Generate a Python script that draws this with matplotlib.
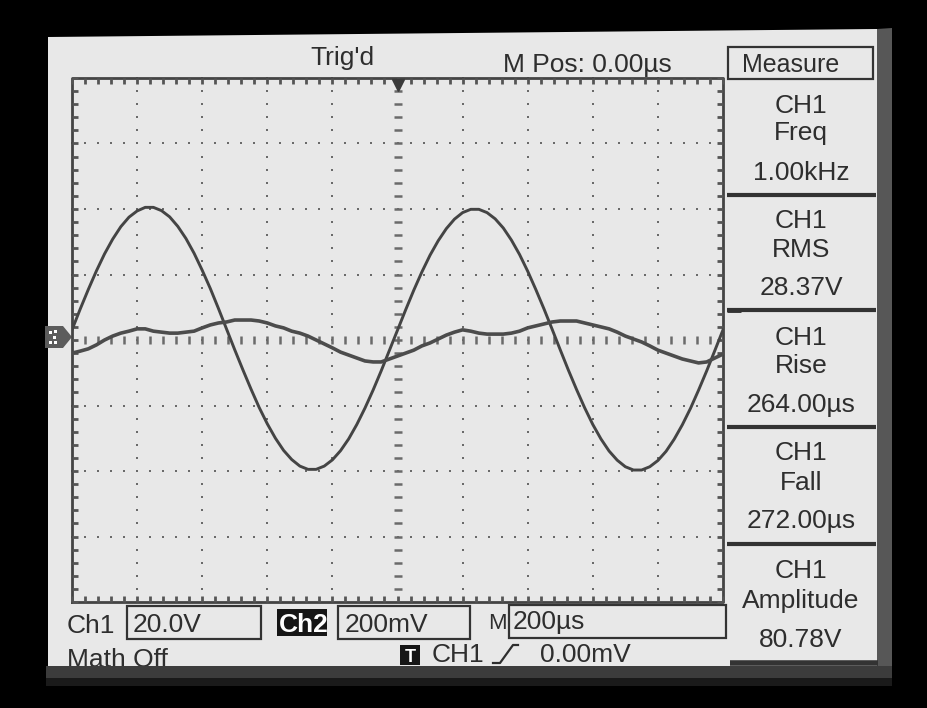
import numpy as np
import matplotlib
matplotlib.use("Agg")
import matplotlib.pyplot as plt
from matplotlib.patches import Rectangle, Polygon

time_us = np.arange(-1000, 1001, 25)          # sample instants, 25 us apart

ch1_volts = [3.1, 9.4, 15.4, 21.1, 26.3, 30.8, 34.6, 37.5, 39.4, 40.5,
             40.5, 39.5, 37.6, 34.7, 31.0, 26.5, 21.3, 15.7, 9.6, 3.3,
             -3.0, -9.1, -15.0, -20.6, -25.6, -30.0, -33.7, -36.5, -38.5, -39.5,
             -39.5, -38.5, -36.6, -33.8, -30.2, -25.8, -20.8, -15.3, -9.4, -3.2,
             3.0, 9.2, 15.2, 20.8, 25.9, 30.3, 34.0, 36.9, 38.9, 39.9,
             39.9, 38.9, 37.0, 34.2, 30.5, 26.1, 21.0, 15.4, 9.5, 3.3,
             -3.0, -9.2, -15.1, -20.7, -25.8, -30.2, -33.9, -36.7, -38.7, -39.7,
             -39.7, -38.7, -36.8, -34.0, -30.3, -25.9, -20.9, -15.3, -9.4, -3.2,
             3.1]

ch2_mv = [-40, -34, -27, -15, 0, 12, 21, 27, 34, 34,
          27, 24, 21, 21, 24, 27, 37, 46, 52, 55,
          61, 61, 61, 58, 52, 43, 37, 27, 21, 12,
          0, -12, -24, -37, -46, -55, -64, -67, -67, -58,
          -49, -40, -31, -18, -9, 3, 15, 24, 31, 27,
          21, 18, 18, 18, 21, 27, 37, 43, 49, 55,
          58, 58, 58, 52, 46, 40, 34, 24, 12, 3,
          -6, -18, -31, -40, -49, -58, -64, -70, -67, -55,
          -43]

US_PER_DIV = 200
V_PER_DIV = 20
MV_PER_DIV = 200
H_DIVS = 10
V_DIVS = 8

status_label = "Trig'd"
mpos_label = "M Pos: 0.00\u00b5s"
measure_title = "Measure"
measure_source = "CH1"
measure_names = ["Freq", "RMS", "Rise", "Fall", "Amplitude"]
measure_values = ["1.00kHz", "28.37V", "264.00\u00b5s", "272.00\u00b5s", "80.78V"]
ch1_label, ch1_scale = "Ch1", "20.0V"
ch2_label, ch2_scale = "Ch2", "200mV"
time_label, time_scale = "M", "200\u00b5s"
math_label = "Math Off"
trig_src, trig_level = "CH1", "0.00mV"

# ---------------- styling ----------------
W, H = 927, 708
FAM = ['Liberation Sans', 'DejaVu Sans']
TXT = '#2e2e2e'
DARK = '#333333'
GRID = '#6a6a6a'
SCREEN = '#e8e8e8'
TRACE1 = '#444444'
TRACE2 = '#4c4c4c'

fig = plt.figure(figsize=(W / 100, H / 100), dpi=100, facecolor='black')

bg = fig.add_axes([0, 0, 1, 1])
bg.set_xlim(0, W)
bg.set_ylim(H, 0)
bg.set_axis_off()

# screen area
bg.add_patch(Polygon([(48, 37), (877, 29), (877, 668), (48, 668)],
                     closed=True, facecolor=SCREEN, edgecolor='none', zorder=0))
bg.add_patch(Polygon([(877, 29), (892, 28), (892, 668), (877, 668)],
                     closed=True, facecolor='#575757', edgecolor='none', zorder=0))


def txt(x, y, s, ha='left', size=19, color=TXT, weight='normal', z=2):
    bg.text(x, y, s, ha=ha, va='baseline', fontsize=size, color=color,
            family=FAM, fontweight=weight, zorder=z)


def box(x0, y0, x1, y1, fill=False, lw=1.6):
    bg.add_patch(Rectangle((x0, y0), x1 - x0, y1 - y0, fill=fill,
                           facecolor=DARK if fill else 'none',
                           edgecolor=DARK, lw=lw, zorder=2))


# top status line
txt(310, 65, status_label)
txt(503, 72, mpos_label)
box(728, 47, 873, 79)
txt(742, 72, measure_title, size=18)

# right measurement panel
panel_baselines = [(113, 140, 180), (228, 257, 295), (345, 373, 412),
                   (460, 490, 528), (578, 608, 647)]
for (b1, b2, b3), name, val in zip(panel_baselines, measure_names, measure_values):
    txt(801, b1, measure_source, ha='center')
    txt(801, b2, name, ha='center')
    txt(801, b3, val, ha='center')
for ys in [195, 310, 427, 544]:
    bg.plot([727, 876], [ys, ys], color=DARK, lw=3, solid_capstyle='butt', zorder=2)
bg.plot([730, 878], [663, 663], color=DARK, lw=4, solid_capstyle='butt', zorder=2)

# bottom status lines
txt(67, 633, ch1_label)
box(127, 606, 261, 639)
txt(133, 632, ch1_scale)
bg.add_patch(Rectangle((277, 609), 50, 27, facecolor='#161616', edgecolor='none', zorder=2))
txt(279, 632, ch2_label, color='white', weight='bold')
box(338, 606, 470, 639)
txt(345, 632, ch2_scale)
txt(488, 629, time_label, size=16)
box(509, 605, 726, 638)
txt(513, 629, time_scale)
txt(67, 667, math_label)
bg.add_patch(Rectangle((400, 645), 20, 20, facecolor='#161616', edgecolor='none', zorder=2))
txt(410, 662, "T", ha='center', size=13, color='white', weight='bold', z=3)
txt(432, 662, trig_src)
bg.plot([493, 500, 513, 518], [663, 663, 645, 645], color=TXT, lw=1.6, zorder=2)
txt(540, 662, trig_level)

# bottom bezel shadow over the last text line
bg.add_patch(Rectangle((46, 666), 846, 12, facecolor='#3c3c3c', edgecolor='none', zorder=5))
bg.add_patch(Rectangle((46, 678), 846, 8, facecolor='#1a1a1a', edgecolor='none', zorder=5))

# channel / trigger markers
bg.add_patch(Polygon([(45, 326), (63, 326), (72, 337), (63, 348), (45, 348)],
                     closed=True, facecolor='#5c5c5c', edgecolor='none', zorder=3))
for (mx, my) in [(51, 332), (56, 331), (55, 337), (51, 342), (56, 342)]:
    bg.add_patch(Rectangle((mx - 1.5, my - 1.5), 3, 3, facecolor='white',
                           edgecolor='none', zorder=4))
bg.plot([727, 741], [310, 310], color=DARK, lw=3.5, solid_capstyle='butt', zorder=3)

# ---------------- waveform graticule ----------------
pos = [72 / W, 1 - 602 / H, 651 / W, 524 / H]
ax = fig.add_axes(pos)
ax.set_xlim(-H_DIVS / 2 * US_PER_DIV, H_DIVS / 2 * US_PER_DIV)
ax.set_ylim(-V_DIVS / 2 * V_PER_DIV, V_DIVS / 2 * V_PER_DIV)
ax.set_axis_off()

x0, x1 = ax.get_xlim()
y0, y1 = ax.get_ylim()
div_x = np.arange(x0, x1 + 1, US_PER_DIV)
div_y = np.arange(y0, y1 + 1, V_PER_DIV)
fine_x = np.arange(x0, x1 + 1, US_PER_DIV / 5)
fine_y = np.arange(y0, y1 + 1, V_PER_DIV / 5)

for xv in div_x[1:-1]:
    if xv == 0:
        continue
    ax.plot(np.full_like(fine_y, xv), fine_y, ls='none', marker='s', ms=1.7,
            mew=0, color=GRID, clip_on=False)
for yv in div_y[1:-1]:
    if yv == 0:
        continue
    ax.plot(fine_x, np.full_like(fine_x, yv), ls='none', marker='s', ms=1.7,
            mew=0, color=GRID, clip_on=False)

# centre cross with sub-division ticks
ax.plot(np.zeros_like(fine_y[1:-1]), fine_y[1:-1], ls='none', marker='_', ms=6,
        mew=1.8, color=GRID)
ax.plot(fine_x[1:-1], np.zeros_like(fine_x[1:-1]), ls='none', marker='|', ms=6,
        mew=1.8, color=GRID)

# border with inward ticks
ax.plot([x0, x1, x1, x0, x0], [y0, y0, y1, y1, y0], color='#444444', lw=2,
        clip_on=False)
ax.plot(fine_x, np.full_like(fine_x, y1), ls='none', marker=3, ms=4, mew=2,
        color='#555555', clip_on=False)
ax.plot(fine_x, np.full_like(fine_x, y0), ls='none', marker=2, ms=4, mew=2,
        color='#555555', clip_on=False)
ax.plot(np.full_like(fine_y, x0), fine_y, ls='none', marker=1, ms=4, mew=2,
        color='#555555', clip_on=False)
ax.plot(np.full_like(fine_y, x1), fine_y, ls='none', marker=0, ms=4, mew=2,
        color='#555555', clip_on=False)

# trigger position marker
ax.plot([0], [y1 - 2.2], marker='v', ms=8, color='#3a3a3a', clip_on=False)

# CH1 trace
ax.plot(time_us, ch1_volts, color=TRACE1, lw=2.1, solid_joinstyle='round', zorder=4)

# CH2 trace on its own vertical scale
ax2 = fig.add_axes(pos, sharex=ax)
ax2.set_ylim(-V_DIVS / 2 * MV_PER_DIV, V_DIVS / 2 * MV_PER_DIV)
ax2.set_axis_off()
ax2.patch.set_alpha(0)
ax2.plot(time_us, ch2_mv, color=TRACE2, lw=2.6, solid_joinstyle='round', zorder=4)

fig.savefig('out.png', dpi=100, facecolor='black')
